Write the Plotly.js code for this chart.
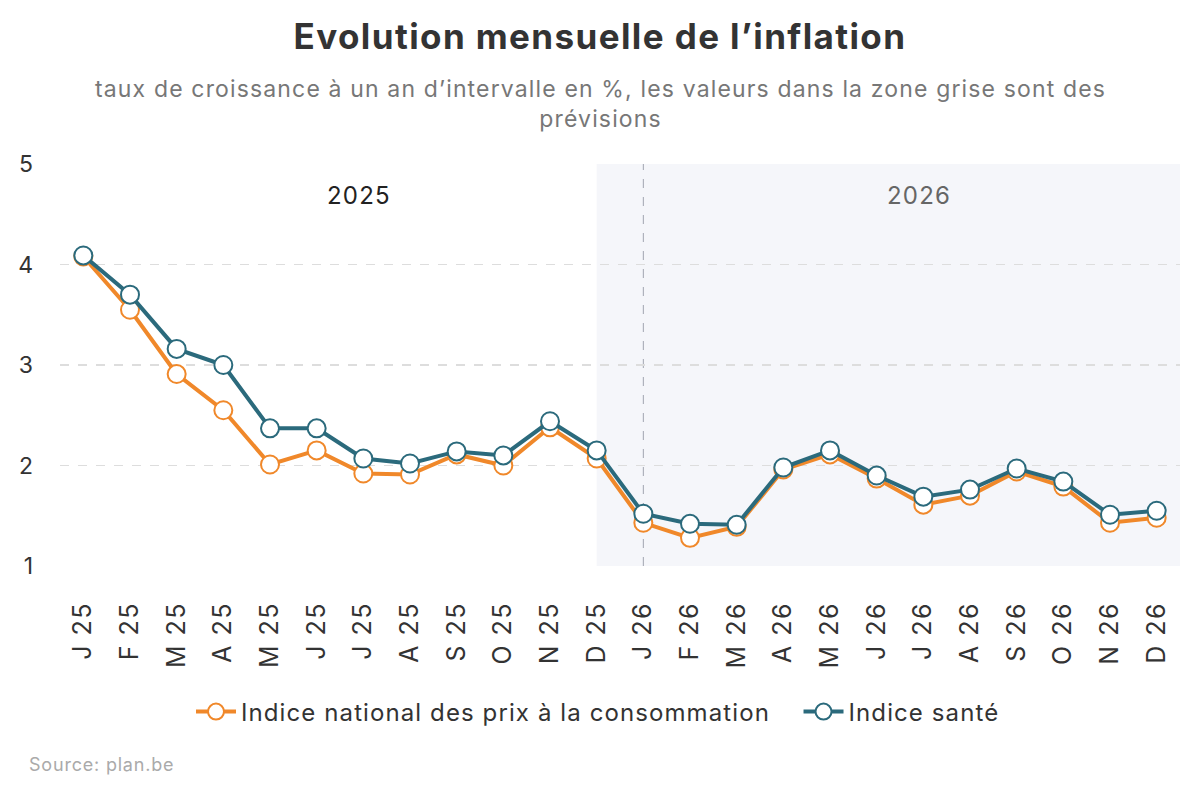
<!DOCTYPE html>
<html>
<head>
<meta charset="utf-8">
<script src="https://cdn.plot.ly/plotly-3.0.1.min.js"></script>
<style>
html,body{margin:0;padding:0;background:#fff;}
#chart{width:1200px;height:800px;}
.legendtext{letter-spacing:1.1px;}
.xtick text{letter-spacing:1.5px;}
</style>
</head>
<body>
<div id="chart"></div>
<script>
const months = ["J 25","F 25","M 25","A 25","M 25","J 25","J 25","A 25","S 25","O 25","N 25","D 25",
                "J 26","F 26","M 26","A 26","M 26","J 26","J 26","A 26","S 26","O 26","N 26","D 26"];
const ipc = [4.08,3.55,2.91,2.55,2.01,2.15,1.92,1.91,2.11,2.00,2.38,2.07,
             1.43,1.28,1.39,1.96,2.11,1.87,1.61,1.70,1.94,1.79,1.43,1.48];
const sante = [4.09,3.70,3.16,3.00,2.37,2.37,2.07,2.02,2.14,2.10,2.44,2.15,
               1.52,1.42,1.41,1.98,2.15,1.90,1.69,1.76,1.97,1.84,1.51,1.55];
const yTicks = [1,2,3,4,5];
const seriesNames = ["Indice national des prix à la consommation","Indice santé"];
const yearLabels = ["2025","2026"];
const titleText = "Evolution mensuelle de l’inflation";
const subtitleText = ["taux de croissance à un an d’intervalle en %, les valeurs dans la zone grise sont des","prévisions"];
const sourceText = "Source: plan.be";

const idx = months.map((m,i)=>i);
const FONT = "Inter, 'Noto Sans', sans-serif";
const ls = (t, px) => `<span style="letter-spacing:${px}px">${t}</span>`;

const traces = [
  {x: idx, y: ipc, name: seriesNames[0] + "\u00a0\u00a0\u00a0", type:"scatter", mode:"lines+markers",
   line:{color:"#f0882a", width:4},
   marker:{size:18, color:"#ffffff", line:{color:"#f0882a", width:2}}},
  {x: idx, y: sante, name: seriesNames[1], type:"scatter", mode:"lines+markers",
   line:{color:"#2b6a7c", width:4},
   marker:{size:18, color:"#ffffff", line:{color:"#2b6a7c", width:2}}}
];

const plotH = 800-164-234;
const plotW = 1200-60-20;
const layout = {
  width:1200, height:800,
  paper_bgcolor:"#fff", plot_bgcolor:"rgba(0,0,0,0)",
  font:{family:FONT, color:"#333"},
  margin:{l:60, r:20, t:164, b:234},
  title:{text:"<b>" + ls(titleText,1.4) + "</b>", x:0.5, xanchor:"center", y:0.954, yanchor:"middle",
         font:{size:35, color:"#333", family:FONT}},
  showlegend:true,
  legend:{orientation:"h", x:0.5 - 22/plotW, xanchor:"center", y:(566-712)/plotH, yanchor:"middle",
          font:{size:24, color:"#333"}, itemwidth:40, traceorder:"normal"},
  xaxis:{range:[-0.5,23.5], tickmode:"array", tickvals:idx, ticktext:months, tickangle:-90,
         showgrid:false, zeroline:false, showline:false, ticks:"", ticklabelstandoff:30,
         tickfont:{size:25, color:"#333"}, fixedrange:true},
  yaxis:{range:[1,5], tickmode:"array", tickvals:yTicks, ticktext:yTicks.map(String),
         showgrid:true, gridcolor:"#dddddd", griddash:"dash", gridwidth:1.5, zeroline:false,
         showline:false, ticks:"", ticklabelstandoff:26,
         tickfont:{size:23, color:"#333"}, fixedrange:true},
  shapes:[
    {type:"rect", xref:"x", yref:"y", x0:11, x1:23.5, y0:1, y1:5, fillcolor:"#f5f6fa", line:{width:0}, layer:"below"},
    {type:"line", xref:"x", yref:"y", x0:12, x1:12, y0:1, y1:5, line:{color:"#a0a4b0", width:1, dash:"dash"}, layer:"below"}
  ],
  annotations:[
    {text: subtitleText.map(t=>ls(t,1.15)).join("<br>"),
     xref:"paper", yref:"paper", x:0.5, y:(566-104)/plotH, xanchor:"center", yanchor:"middle", showarrow:false,
     xshift:-20, font:{size:23, color:"#777"}},
    {text:ls(yearLabels[0],1.2), xref:"x", yref:"y", x:5.9, y:4.69, showarrow:false, font:{size:24, color:"#222"}},
    {text:ls(yearLabels[1],1.2), xref:"x", yref:"y", x:17.9, y:4.69, showarrow:false, font:{size:24, color:"#666"}},
    {text:ls(sourceText,0.8), xref:"paper", yref:"paper", x:-0.027, xanchor:"left", y:(566-764)/plotH, yanchor:"middle",
     xshift:-3, showarrow:false, font:{size:18, color:"#aaa"}}
  ]
};
Plotly.newPlot("chart", traces, layout, {displayModeBar:false, staticPlot:true});
</script>
</body>
</html>
